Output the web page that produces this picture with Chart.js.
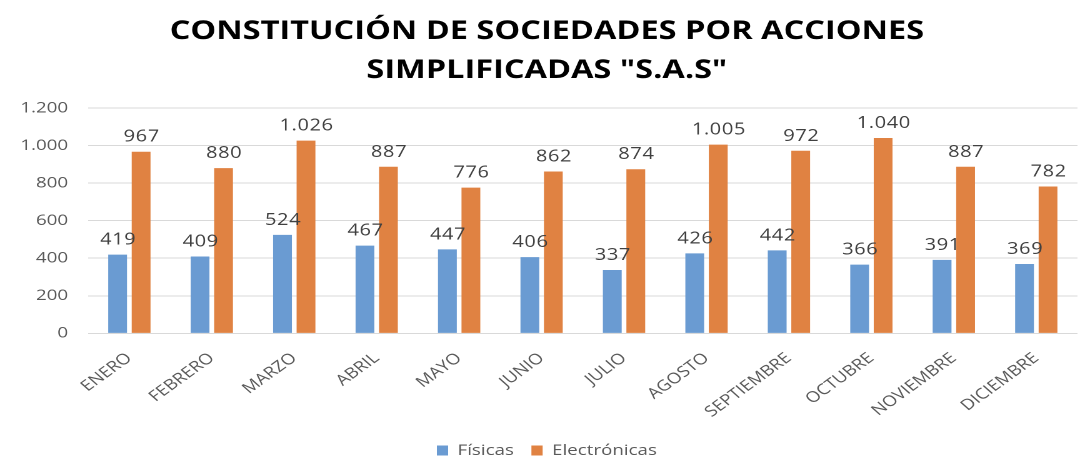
<!DOCTYPE html>
<html>
<head>
<meta charset="utf-8">
<script src="https://cdn.jsdelivr.net/npm/chart.js@4"></script>
<style>
  html, body { margin: 0; padding: 0; background: #fff; overflow: hidden; }
  /* the original picture is stretched sideways, so the chart is drawn narrower and widened */
  #wrap { width: 868px; height: 468px; transform: scaleX(1.25); transform-origin: 0 0; }
</style>
</head>
<body>
<div id="wrap"><canvas id="sasChart"></canvas></div>
<script>
// Data
var meses = ["ENERO", "FEBRERO", "MARZO", "ABRIL", "MAYO", "JUNIO", "JULIO", "AGOSTO", "SEPTIEMBRE", "OCTUBRE", "NOVIEMBRE", "DICIEMBRE"];
var fisicas = [419, 409, 524, 467, 447, 406, 337, 426, 442, 366, 391, 369];
var electronicas = [967, 880, 1026, 887, 776, 862, 874, 1005, 972, 1040, 887, 782];

function miles(v) {
  return String(v).replace(/\B(?=(\d{3})+(?!\d))/g, '.');
}

// Value labels above each bar
var valueLabels = {
  id: 'valueLabels',
  afterDatasetsDraw: function(chart) {
    var ctx = chart.ctx;
    ctx.save();
    ctx.font = '16px "Open Sans"';
    ctx.letterSpacing = '0.5px';
    ctx.fillStyle = '#404040';
    ctx.textAlign = 'center';
    ctx.textBaseline = 'alphabetic';
    chart.data.datasets.forEach(function(ds, i) {
      chart.getDatasetMeta(i).data.forEach(function(bar, j) {
        ctx.fillText(miles(ds.data[j]), bar.x + 0.5, bar.y - 10);
      });
    });
    ctx.restore();
  }
};

var ctx = document.getElementById('sasChart').getContext('2d');
var sasChart = new Chart(ctx, {
  type: 'bar',
  data: {
    labels: meses,
    datasets: [{
      label: 'Físicas',
      backgroundColor: '#6a9bd2',
      data: fisicas
    }, {
      label: 'Electrónicas',
      backgroundColor: '#e08242',
      data: electronicas
    }]
  },
  plugins: [valueLabels],
  options: {
    responsive: true,
    maintainAspectRatio: false,
    animation: false,
    devicePixelRatio: 2,
    layout: {
      padding: { left: 13, right: 6, top: 0, bottom: 0 }
    },
    datasets: {
      bar: { categoryPercentage: 0.57, barPercentage: 0.8 }
    },
    plugins: {
      title: {
        display: true,
        text: ['CONSTITUCIÓN DE SOCIEDADES POR ACCIONES', 'SIMPLIFICADAS "S.A.S"'],
        color: '#000',
        font: { family: '"Open Sans"', size: 26, weight: 'bold', lineHeight: 1.5 },
        padding: { top: 12, bottom: 18 }
      },
      legend: {
        position: 'bottom',
        labels: {
          boxWidth: 9,
          boxHeight: 10,
          padding: 14,
          color: '#595959',
          font: { family: '"Open Sans"', size: 15 }
        }
      },
      tooltip: { enabled: false }
    },
    scales: {
      x: {
        grid: { display: false, drawBorder: false },
        border: { display: false },
        ticks: {
          color: '#595959',
          font: { family: '"Open Sans"', size: 15 },
          minRotation: 42,
          maxRotation: 42,
          padding: 8
        }
      },
      y: {
        min: 0,
        max: 1200,
        border: { display: false },
        grid: { color: '#d9d9d9', drawTicks: false, drawBorder: false },
        afterFit: function(scale) { scale.width = 57.5; },
        ticks: {
          stepSize: 200,
          padding: 16,
          color: '#595959',
          font: { family: '"Open Sans"', size: 15 },
          callback: function(v) { return miles(v); }
        }
      }
    }
  }
});
</script>
</body>
</html>
